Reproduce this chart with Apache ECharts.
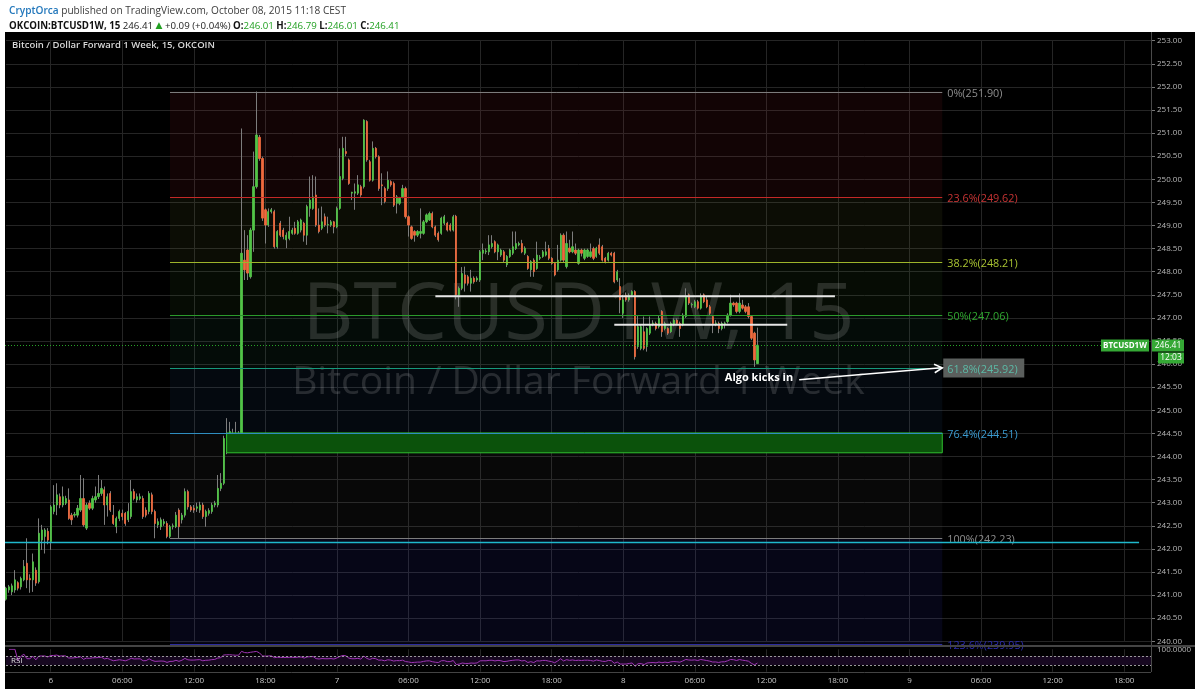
<!DOCTYPE html>
<html><head><meta charset="utf-8">
<script src="https://cdn.jsdelivr.net/npm/echarts@6/dist/echarts.min.js"></script>
<style>html,body{margin:0;padding:0;background:#fff;}#c{width:1200px;height:693px;}</style>
</head><body><div id="c"></div><script>
// ---------------- DATA ----------------
const slotStartUTC = Date.UTC(2015, 9, 5, 20, 15); // first 15-min slot
const slotMinutes = 15;
const slotCount = 385;
const timeTicks = ['6','06:00','12:00','18:00','7','06:00','12:00','18:00','8','06:00','12:00','18:00','9','06:00','12:00','18:00'];
const priceTicks = {min: 240, max: 253, step: 0.5};

const opens = [
240.91,241.11,241.07,241.11,241.27,241.18,241.33,241.69,241.36,241.33,
241.54,241.29,242.19,242.27,242.38,242.16,242.81,242.95,243.13,242.95,
242.99,243.06,242.73,242.73,242.73,242.84,243.09,242.45,242.99,242.88,
243.06,243.13,243.20,243.28,242.95,243.20,242.73,242.48,242.66,242.77,
242.77,242.63,242.70,243.24,243.06,243.09,243.09,242.84,242.81,243.17,
242.81,242.52,242.48,242.55,242.55,242.27,242.48,242.48,242.84,242.63,
242.73,243.24,242.91,242.88,242.88,242.84,242.95,242.70,242.77,242.81,
242.95,242.95,243.31,243.42,244.10,244.36,244.39,244.39,244.43,244.47,
248.25,248.47,247.89,248.90,249.84,250.91,250.45,249.34,249.01,249.30,
249.30,248.54,249.05,248.90,248.69,248.72,248.83,248.94,248.83,248.90,
249.05,248.79,249.37,249.37,249.66,249.01,248.94,249.19,249.01,249.01,
249.08,248.97,249.37,250.02,250.60,250.42,249.70,249.70,249.70,249.84,
249.84,251.25,250.38,249.98,250.67,250.49,249.88,249.80,249.80,249.95,
249.91,249.48,249.48,249.62,249.80,249.19,248.97,248.87,248.79,248.83,
248.83,249.08,249.12,249.26,248.97,248.83,248.83,249.05,249.05,249.01,
248.90,249.20,247.50,247.64,247.93,247.89,247.75,247.86,247.82,247.82,
248.40,248.43,248.43,248.54,248.65,248.43,248.36,248.43,248.15,248.33,
248.40,248.50,248.58,248.61,248.40,248.33,248.04,248.25,248.07,248.29,
248.33,248.36,248.50,248.29,248.18,248.04,248.25,248.79,248.11,248.51,
248.43,248.47,248.18,248.47,248.29,248.33,248.33,248.50,248.33,248.58,
248.54,248.29,248.25,248.40,248.40,247.82,247.68,247.10,247.49,247.39,
247.50,247.57,246.38,246.34,246.70,246.38,246.67,246.88,246.88,246.81,
247.14,246.77,246.77,246.70,246.85,246.95,246.88,246.85,247.03,247.50,
247.28,247.24,247.35,247.21,247.50,247.39,247.24,247.03,246.88,246.88,
246.77,246.88,246.92,247.06,247.32,247.32,247.14,247.28,247.24,247.24,
247.03,246.67,246.01];
const highs = [
241.18,241.22,241.25,241.54,241.30,241.40,241.76,242.23,241.45,241.90,
241.60,242.66,242.52,242.45,242.45,242.95,243.38,243.42,243.20,243.35,
243.15,243.31,242.78,242.80,242.95,243.60,243.53,243.00,243.05,243.15,
243.35,243.60,243.49,243.35,243.20,243.25,242.95,242.70,242.85,242.85,
242.80,242.99,243.49,243.30,243.20,243.20,243.15,242.90,243.25,243.22,
242.85,242.66,242.68,242.65,242.60,242.52,242.55,242.80,242.88,242.78,
243.31,243.28,242.95,242.95,243.00,243.02,243.00,242.85,242.88,243.00,
243.04,243.60,243.64,244.45,244.83,244.75,244.60,244.75,244.55,251.10,
248.90,248.79,248.95,250.60,251.90,250.96,250.49,249.37,249.37,249.38,
249.34,248.90,249.10,248.95,248.85,249.19,248.95,249.08,249.12,249.15,
249.08,249.45,250.06,250.09,250.06,249.37,249.41,249.26,249.19,249.12,
249.10,249.41,250.67,250.92,250.92,250.45,249.73,249.91,250.09,249.88,
251.30,251.28,250.42,250.82,250.70,250.52,250.13,249.84,250.17,249.98,
249.95,249.66,249.62,249.88,249.84,249.22,249.00,248.90,248.90,249.37,
249.12,249.26,249.30,249.30,249.00,248.87,249.19,249.23,249.08,249.05,
249.23,249.23,247.68,248.10,248.11,247.93,248.04,247.90,247.90,248.47,
248.61,248.50,248.79,248.79,248.68,248.61,248.50,248.47,248.36,248.50,
248.87,248.87,248.65,248.69,248.55,248.36,248.25,248.29,248.65,248.36,
248.47,248.65,248.58,248.32,248.21,248.58,248.83,248.83,248.87,248.69,
248.87,248.61,248.50,248.50,248.50,248.50,248.61,248.54,248.54,248.72,
248.58,248.32,248.43,248.43,248.43,248.04,247.86,247.50,247.55,247.53,
247.60,247.60,247.06,246.85,247.03,246.80,247.03,246.95,246.92,247.06,
247.17,246.92,246.80,246.92,246.99,246.99,246.92,247.10,247.64,247.53,
247.33,247.39,247.39,247.53,247.53,247.46,247.28,247.06,246.95,246.92,
246.92,246.92,247.10,247.50,247.35,247.35,247.53,247.39,247.28,247.32,
247.06,246.70,246.79];
const lows = [
240.88,241.05,241.00,241.05,241.10,241.12,241.30,241.15,241.05,241.07,
241.20,241.25,241.98,241.90,242.10,241.98,242.75,242.73,242.88,242.90,
242.95,242.63,242.52,242.68,242.68,242.80,242.48,242.41,242.84,242.84,
243.00,243.08,243.15,242.52,242.70,242.80,242.52,242.34,242.60,242.62,
242.50,242.58,242.65,243.05,243.00,243.05,242.65,242.68,242.75,242.75,
242.23,242.45,242.41,242.50,242.23,242.23,242.42,242.45,242.23,242.55,
242.68,242.85,242.80,242.78,242.80,242.78,242.65,242.48,242.72,242.76,
242.90,242.90,243.25,243.38,244.05,244.30,244.35,244.35,244.38,244.43,
247.82,247.82,247.85,248.43,249.80,250.40,249.10,248.61,248.97,249.26,
248.50,248.50,248.75,248.70,248.51,248.68,248.80,248.80,248.80,248.85,
248.65,248.58,249.19,249.34,248.97,248.83,248.90,248.97,248.83,248.97,
248.83,248.94,249.34,249.98,250.50,249.88,249.55,249.34,249.66,249.62,
249.80,250.38,249.95,249.95,250.45,249.75,249.44,249.48,249.75,249.84,
249.40,249.26,249.44,249.59,249.15,248.76,248.69,248.65,248.75,248.72,
248.80,249.05,249.10,248.94,248.75,248.65,248.80,249.01,248.87,248.87,
248.87,247.40,247.24,247.60,247.57,247.70,247.57,247.74,247.78,247.78,
248.25,248.38,248.36,248.50,248.40,248.25,248.32,248.21,248.10,248.30,
248.36,248.47,248.55,248.40,248.36,248.04,247.89,247.89,248.04,248.25,
248.30,248.33,248.25,248.15,247.90,248.00,248.22,248.20,248.07,248.40,
248.40,248.36,248.15,248.33,248.25,248.30,248.30,248.25,248.30,248.36,
248.22,248.18,248.22,248.33,247.75,247.78,247.10,247.00,247.35,247.35,
247.45,246.10,246.33,246.30,246.30,246.27,246.63,246.82,246.73,246.77,
246.59,246.73,246.63,246.67,246.82,246.85,246.59,246.82,247.00,247.28,
247.22,247.21,247.18,247.18,247.32,247.21,247.06,246.67,246.82,246.67,
246.73,246.77,246.88,247.03,247.24,247.10,247.10,247.18,247.10,246.99,
246.52,245.94,246.01];
const closes = [
241.15,241.18,241.20,241.33,241.15,241.36,241.62,241.33,241.33,241.72,
241.26,242.34,242.41,242.41,242.19,242.91,242.95,243.17,242.95,243.13,
243.09,242.66,242.63,242.75,242.88,243.09,242.52,242.95,242.88,243.09,
243.13,243.20,243.31,242.95,243.13,242.84,242.55,242.66,242.81,242.70,
242.55,242.81,243.24,243.09,243.13,243.13,242.70,242.73,243.20,242.81,
242.55,242.59,242.63,242.59,242.27,242.48,242.50,242.73,242.48,242.73,
243.24,242.91,242.84,242.84,242.91,242.95,242.70,242.81,242.83,242.95,
242.99,243.31,243.42,244.39,244.50,244.54,244.50,244.47,244.47,248.40,
248.04,247.97,248.90,249.84,250.96,250.45,249.16,249.01,249.30,249.34,
248.54,248.87,248.79,248.76,248.79,248.87,248.90,248.83,249.08,249.12,
248.79,249.41,249.55,249.62,249.01,248.87,249.08,249.01,249.02,249.08,
248.97,249.37,250.06,250.67,250.56,249.91,249.72,249.73,249.88,249.66,
251.28,250.42,249.98,250.67,250.49,249.80,249.86,249.52,249.98,249.88,
249.44,249.62,249.59,249.80,249.19,249.01,248.72,248.79,248.87,248.87,
249.08,249.23,249.26,248.97,248.79,248.69,249.16,249.19,248.90,248.90,
249.19,247.50,247.64,247.96,247.75,247.75,247.86,247.78,247.86,248.43,
248.47,248.45,248.58,248.61,248.43,248.58,248.47,248.25,248.33,248.47,
248.54,248.61,248.61,248.43,248.51,248.07,248.22,248.00,248.36,248.31,
248.43,248.43,248.29,248.18,247.93,248.25,248.79,248.25,248.61,248.43,
248.54,248.40,248.47,248.40,248.47,248.47,248.43,248.29,248.51,248.40,
248.25,248.22,248.40,248.36,247.78,248.00,247.39,247.39,247.39,247.49,
247.57,246.16,246.81,246.81,246.34,246.77,246.85,246.89,246.77,246.99,
246.70,246.88,246.67,246.88,246.95,246.88,246.77,247.06,247.46,247.32,
247.29,247.35,247.21,247.46,247.35,247.24,247.10,246.88,246.89,246.77,
246.88,246.89,247.06,247.32,247.28,247.14,247.32,247.21,247.14,247.03,
246.56,246.09,246.41];

// Fibonacci retracement (drawn from slot 55 to slot 314)
const fibStartSlot = 55, fibEndSlot = 314;
const fibRatios = ['0', '23.6', '38.2', '50', '61.8', '76.4', '100', '123.6'];
const fibPrices = [251.90, 249.62, 248.21, 247.06, 245.92, 244.51, 242.23, 239.95];
const fibLineColors = ['#7c7c7c','#c62828','#9db52a','#2b9a2b','#17987a','#2f8dc0','#7c7c7c','#2a2a9e'];
const fibTextColors = ['#8e8e8e','#c83434','#a8c232','#30a830','#5cbaa6','#3a9ad0','#8e8e8e','#2c2cb0'];
const fibFills = ['rgba(200,40,60,0.09)','rgba(130,140,50,0.09)','rgba(80,150,50,0.08)','rgba(50,150,100,0.08)','rgba(50,110,190,0.08)','rgba(110,110,110,0.07)','rgba(60,60,230,0.10)'];
const fibHighlight = 4;

// drawings
const greenZone = {from: 74, to: 314, top: 244.51, bottom: 244.08};
const cyanLine = {from: 0, to: 380, price: 242.14};
const trendLines = [[144, 278, 247.47], [204, 262, 246.85]];
const arrowLine = {from: [266, 245.66], to: [314, 245.92]};
const callout = {text: 'Algo kicks in', slot: 264, price: 245.70};

// header
const headerUser = 'CryptOrca';
const headerPub = ' published on TradingView.com, October 08, 2015 11:18 CEST';
const headerSymbol = 'OKCOIN:BTCUSD1W, 15';
const headerChange = '+0.09 (+0.04%)';
const chartTitle = 'Bitcoin / Dollar Forward 1 Week, 15, OKCOIN';
const watermark1 = 'BTCUSD1W, 15';
const watermark2 = 'Bitcoin / Dollar Forward 1 Week';
const tagName = 'BTCUSD1W';
const tagTimer = '12:03';

// ---------------- BUILD ----------------
const last = closes.length - 1;
const cats = [];
const tickLabelAt = {};
let tk = 0;
for (let i = 0; i < slotCount; i++) {
  const d = new Date(slotStartUTC + i * slotMinutes * 60000);
  const hh = d.getUTCHours(), mm = d.getUTCMinutes();
  cats.push((d.getUTCMonth()+1) + '-' + d.getUTCDate() + ' ' + String(hh).padStart(2,'0') + ':' + String(mm).padStart(2,'0'));
  if (mm === 0 && hh % 6 === 0 && tk < timeTicks.length) { tickLabelAt[i] = timeTicks[tk++]; }
}
const isTick = (idx) => tickLabelAt[idx] !== undefined;

const candleData = opens.map((o, i) => [o, closes[i], lows[i], highs[i]]);
const bodyData = opens.map((o, i) => [o, closes[i], Math.min(o, closes[i]), Math.max(o, closes[i])]);

// RSI(14), Wilder smoothing, computed from the closes above
function rsiFrom(cl, n) {
  const out = ['-']; let ag = 0, al = 0;
  for (let i = 1; i < cl.length; i++) {
    const d = cl[i] - cl[i-1]; const g = Math.max(d, 0), l = Math.max(-d, 0);
    const k = Math.min(i, n);
    ag = (ag * (k - 1) + g) / k; al = (al * (k - 1) + l) / k;
    out.push(al === 0 ? 100 : +(100 - 100 / (1 + ag / al)).toFixed(2));
  }
  return out;
}
const rsi = rsiFrom(closes, 14);

const F = "'Open Sans', 'DejaVu Sans', sans-serif";
const chart = echarts.init(document.getElementById('c'));

function bgRender(params, api) {
  const cs = params.coordSys;
  const xA = api.coord([fibStartSlot, fibPrices[0]])[0];
  const xB = api.coord([fibEndSlot, fibPrices[0]])[0];
  const ch = [];
  for (let k = 0; k < fibPrices.length - 1; k++) {
    const y1 = api.coord([0, fibPrices[k]])[1], y2 = api.coord([0, fibPrices[k+1]])[1];
    ch.push({type:'rect', shape:{x:xA, y:y1, width:xB-xA, height:y2-y1}, style:{fill:fibFills[k]}});
  }
  const cx = cs.x + cs.width / 2, cy = cs.y + cs.height / 2;
  ch.push({type:'text', style:{text:watermark1, x:cx, y:cy-25, align:'center', verticalAlign:'middle', fill:'rgba(255,255,255,0.14)', font:"79px " + F}});
  ch.push({type:'text', style:{text:watermark2, x:cx, y:cy+42, align:'center', verticalAlign:'middle', fill:'rgba(255,255,255,0.14)', font:"39px " + F}});
  return {type:'group', children: ch};
}

function fgRender(params, api) {
  const cs = params.coordSys;
  const ch = [];
  const xA = api.coord([fibStartSlot, 0])[0];
  const xB = api.coord([fibEndSlot, 0])[0];
  // green zone
  const gz1 = api.coord([greenZone.from, greenZone.top]), gz2 = api.coord([greenZone.to, greenZone.bottom]);
  ch.push({type:'rect', shape:{x:gz1[0], y:gz1[1], width:gz2[0]-gz1[0], height:gz2[1]-gz1[1]}, style:{fill:'#0b520b', stroke:'#2fc02f', lineWidth:1}});
  // fib lines + labels
  for (let k = 0; k < fibPrices.length; k++) {
    const y = Math.round(api.coord([0, fibPrices[k]])[1]) + 0.5;
    ch.push({type:'line', shape:{x1:xA, y1:y, x2:xB, y2:y}, style:{stroke:fibLineColors[k], lineWidth:1}});
    const label = fibRatios[k] + '%(' + fibPrices[k].toFixed(2) + ')';
    if (k === fibHighlight) {
      ch.push({type:'rect', shape:{x:xB+1, y:y-10, width:81, height:19}, style:{fill:'#5b5f5d'}});
    }
    ch.push({type:'text', style:{text:label, x:xB+5, y:y+1, align:'left', verticalAlign:'middle', fill:fibTextColors[k], font:"10.8px " + F}});
  }
  // cyan line
  const cyy = Math.round(api.coord([0, cyanLine.price])[1]) + 0.5;
  ch.push({type:'line', shape:{x1:cs.x - 1, y1:cyy, x2:api.coord([cyanLine.to, 0])[0], y2:cyy}, style:{stroke:'#1fb8cc', lineWidth:1.3}});
  // trend lines
  trendLines.forEach(t => {
    const a = api.coord([t[0], t[2]]), b = api.coord([t[1], t[2]]);
    ch.push({type:'line', shape:{x1:a[0], y1:a[1], x2:b[0], y2:b[1]}, style:{stroke:'#e6e6e6', lineWidth:2}});
  });
  // arrow
  const p1 = api.coord(arrowLine.from), p2 = api.coord(arrowLine.to);
  ch.push({type:'line', shape:{x1:p1[0], y1:p1[1], x2:p2[0]-1, y2:p2[1]}, style:{stroke:'#ffffff', lineWidth:1.6}});
  const ang = Math.atan2(p2[1]-p1[1], p2[0]-p1[0]), L = 9, sp = 0.5;
  ch.push({type:'polyline', shape:{points:[[p2[0]-L*Math.cos(ang-sp), p2[1]-L*Math.sin(ang-sp)], [p2[0], p2[1]], [p2[0]-L*Math.cos(ang+sp), p2[1]-L*Math.sin(ang+sp)]]}, style:{stroke:'#ffffff', lineWidth:1.6, fill:null}});
  const ct = api.coord([callout.slot, callout.price]);
  ch.push({type:'text', style:{text:callout.text, x:ct[0], y:ct[1], align:'right', verticalAlign:'middle', fill:'#ffffff', font:"bold 11px " + F}});
  // current price line + tags
  const py = Math.round(api.coord([0, closes[last]])[1]) + 0.5;
  const xr = cs.x + cs.width;
  ch.push({type:'line', shape:{x1:cs.x - 1, y1:py, x2:xr, y2:py}, style:{stroke:'#27a327', lineWidth:1, lineDash:[1,2]}});
  ch.push({type:'rect', shape:{x:xr-50, y:py-6, width:48, height:12}, style:{fill:'#35a835'}});
  ch.push({type:'text', style:{text:tagName, x:xr-26, y:py, align:'center', verticalAlign:'middle', fill:'#ffffff', font:"bold 8px " + F}});
  ch.push({type:'rect', shape:{x:xr+1, y:py-6, width:32, height:12}, style:{fill:'#35a835'}});
  ch.push({type:'text', style:{text:closes[last].toFixed(2), x:xr+17, y:py, align:'center', verticalAlign:'middle', fill:'#ffffff', font:"8.5px " + F}});
  ch.push({type:'rect', shape:{x:xr+7, y:py+7, width:26, height:11}, style:{fill:'#35a835'}});
  ch.push({type:'text', style:{text:tagTimer, x:xr+20, y:py+12.5, align:'center', verticalAlign:'middle', fill:'#ffffff', font:"8.5px " + F}});
  return {type:'group', children: ch};
}

const gridTop = 40.7, gridH = 600.6;
const option = {
  animation: false,
  backgroundColor: '#ffffff',
  title: [
    {left: 4, top: 1, text: '{a|' + headerUser + '}{b|' + headerPub + '}',
     textStyle: {fontFamily:F, fontSize:10.1, fontWeight:'normal', color:'#3c3c3c',
       rich: {a: {color:'#2277bb', fontFamily:F, fontSize:10.1, fontWeight:600}, b: {color:'#3c3c3c', fontFamily:F, fontSize:10.1}}}},
    {left: 4, top: 16, text: '{k|' + headerSymbol + '} {v|' + closes[last].toFixed(2) + '} {u|▲} {v|' + headerChange + '} {k|O:}{g|' + opens[last].toFixed(2) + '} {k|H:}{g|' + highs[last].toFixed(2) + '} {k|L:}{g|' + lows[last].toFixed(2) + '} {k|C:}{g|' + closes[last].toFixed(2) + '}',
     textStyle: {fontFamily:F, fontSize:9.7, fontWeight:'normal', color:'#222',
       rich: {k: {color:'#111', fontFamily:F, fontSize:9.7, fontWeight:700}, v: {color:'#222', fontFamily:F, fontSize:9.7}, u: {color:'#22a022', fontFamily:'DejaVu Sans', fontSize:9}, g: {color:'#22a022', fontFamily:F, fontSize:9.7}}}}
  ],
  graphic: [
    {type:'rect', z:-100, shape:{x:5, y:32, width:1190, height:657}, style:{fill:'#000000'}},
    {type:'line', z:50, shape:{x1:1151.5, y1:32, x2:1151.5, y2:672}, style:{stroke:'#4a4a4a', lineWidth:1}},
    {type:'line', z:50, shape:{x1:5, y1:646, x2:1195, y2:646}, style:{stroke:'#444', lineWidth:2}},
    {type:'line', z:50, shape:{x1:5, y1:672.5, x2:1151, y2:672.5}, style:{stroke:'#444', lineWidth:1}},
    {type:'text', z:50, style:{text:chartTitle, x:12, y:45, verticalAlign:'middle', fill:'#d8d8d8', font:"600 9.5px " + F}},
    {type:'text', z:50, style:{text:'RSI', x:11, y:660.5, verticalAlign:'middle', fill:'#dddddd', font:"8px " + F}}
  ],
  grid: [
    {left: 6, right: 49, top: gridTop, height: gridH},
    {left: 6, right: 49, top: 649.25, height: 22.5}
  ],
  xAxis: [
    {type:'category', gridIndex:0, data:cats, boundaryGap:false, axisLine:{show:false}, axisTick:{show:false}, axisLabel:{show:false},
     splitLine:{show:true, interval:(i)=>isTick(i), lineStyle:{color:'#252525', width:1}}},
    {type:'category', gridIndex:1, data:cats, boundaryGap:false, axisLine:{show:false}, axisTick:{show:false},
     axisLabel:{show:true, interval:(i)=>isTick(i), formatter:(v, i)=>tickLabelAt[i] || '', color:'#c8c8c8', fontSize:8, fontFamily:F, margin:5},
     splitLine:{show:true, interval:(i)=>isTick(i), lineStyle:{color:'#252525', width:1}}}
  ],
  yAxis: [
    {type:'value', gridIndex:0, position:'right', min:priceTicks.min, max:priceTicks.max, interval:priceTicks.step,
     axisLine:{show:false}, axisTick:{show:true, length:4, lineStyle:{color:'#777'}},
     axisLabel:{color:'#b8b8b8', fontSize:8, fontFamily:F, margin:6, formatter:(v)=>v.toFixed(2)},
     splitLine:{show:true, lineStyle:{color:'#252525', width:1}}},
    {type:'value', gridIndex:1, position:'right', min:0, max:100, interval:100,
     axisLine:{show:false}, axisTick:{show:false}, splitLine:{show:false},
     axisLabel:{color:'#b8b8b8', fontSize:8, fontFamily:F, margin:6, formatter:(v)=> v === 100 ? '100.0000' : ''}}
  ],
  series: [
    {type:'custom', name:'fibBg', xAxisIndex:0, yAxisIndex:0, z:1, clip:false, silent:true, data:[[0, 250]], renderItem:bgRender},
    {type:'candlestick', name:'wicks', xAxisIndex:0, yAxisIndex:0, z:3, clip:false, barWidth:1, data:candleData,
     itemStyle:{color:'#7d7d7d', color0:'#7d7d7d', borderColor:'#7d7d7d', borderColor0:'#7d7d7d', borderWidth:1}},
    {type:'candlestick', name:'bodies', xAxisIndex:0, yAxisIndex:0, z:4, clip:false, barWidth:1.7, data:bodyData,
     itemStyle:{color:'#52c447', color0:'#ee6a3e', borderColor:'#52c447', borderColor0:'#ee6a3e', borderWidth:0.8}},
    {type:'custom', name:'drawings', xAxisIndex:0, yAxisIndex:0, z:6, clip:false, silent:true, data:[[0, 250]], renderItem:fgRender},
    {type:'line', name:'RSI', xAxisIndex:1, yAxisIndex:1, z:4, data:rsi, showSymbol:false, silent:true,
     lineStyle:{color:'#a035b5', width:1},
     markArea:{silent:true, itemStyle:{color:'#170820'}, data:[[{yAxis:30}, {yAxis:70}]]},
     markLine:{silent:true, symbol:'none', label:{show:false}, lineStyle:{color:'#9a9a9a', type:[2,2], width:1}, data:[{yAxis:70}, {yAxis:30}]}}
  ]
};
chart.setOption(option);
</script></body></html>
